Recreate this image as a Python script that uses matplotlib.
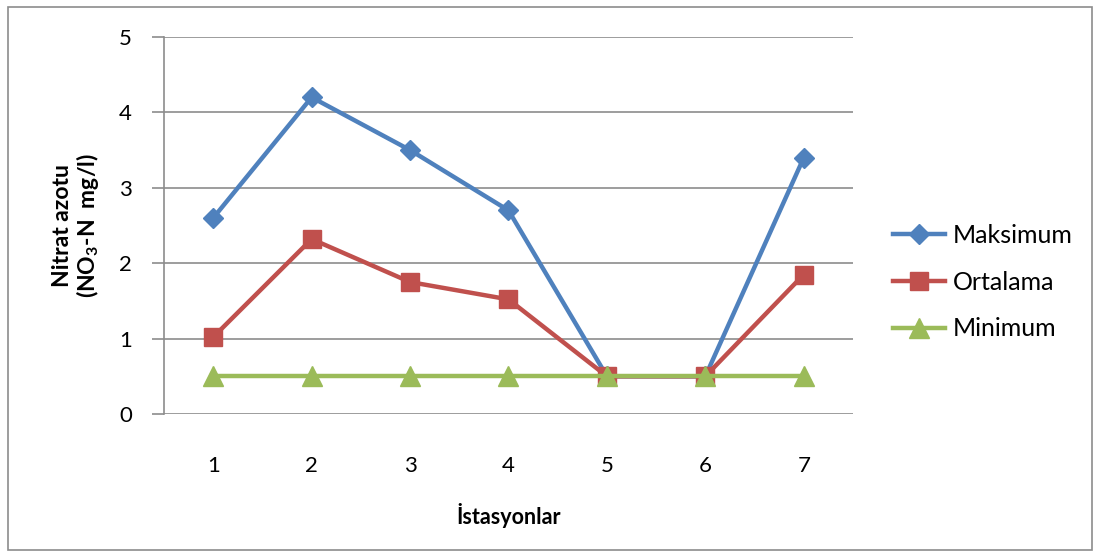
import matplotlib.pyplot as plt
from matplotlib.patches import Rectangle

# station measurements, nitrate nitrogen (mg/l)
stations = [1, 2, 3, 4, 5, 6, 7]
maksimum = [2.6, 4.2, 3.5, 2.7, 0.5, 0.5, 3.4]
ortalama = [1.02, 2.32, 1.75, 1.52, 0.5, 0.5, 1.85]
minimum = [0.5, 0.5, 0.5, 0.5, 0.5, 0.5, 0.5]
yticks = [0, 1, 2, 3, 4, 5]

plt.rcParams['font.family'] = ['Lato', 'DejaVu Sans']

fig = plt.figure(figsize=(10.98, 5.55), dpi=100)
ax = fig.add_axes([164 / 1098, 1 - 414 / 555, 689 / 1098, 377 / 555])

# outer chart frame
fig.patches.append(Rectangle((8 / 1098, 5 / 555), 1084 / 1098, 543 / 555,
                             transform=fig.transFigure, fill=False,
                             edgecolor='#8c8c8c', linewidth=1.2))

ax.plot(stations, maksimum, color='#4F81BD', lw=3.2, marker='D', ms=10,
        label='Maksimum', zorder=3)
ax.plot(stations, ortalama, color='#C0504D', lw=3.2, marker='s', ms=13,
        label='Ortalama', zorder=4)
ax.plot(stations, minimum, color='#9BBB59', lw=3.2, marker='^', ms=15,
        label='Minimum', zorder=5)

ax.set_xlim(0.5, 7.5)
ax.set_ylim(0, 5)
ax.set_yticks(yticks)
ax.set_xticks(stations)
ax.yaxis.grid(True, color='#8c8c8c', linewidth=1.2)
ax.set_axisbelow(True)
for side in ['top', 'right', 'bottom']:
    ax.spines[side].set_visible(False)
ax.spines['left'].set_color('#8c8c8c')
ax.spines['left'].set_linewidth(1.2)
ax.tick_params(axis='y', length=9, width=1.2, color='#8c8c8c', labelsize=16, pad=14)
ax.tick_params(axis='x', length=0, labelsize=16, pad=30)

ax.set_xlabel('İstasyonlar', fontsize=15.5, fontweight='bold', labelpad=20)
ax.set_ylabel('Nitrat azotu\n(NO$_\\mathregular{3}$-N  mg/l)', fontsize=16.5,
              fontweight='bold', labelpad=13, linespacing=1.05)

ax.legend(loc='center left', bbox_to_anchor=(1.0435, 0.35), frameon=False,
          fontsize=18, handlelength=2.1, handletextpad=0.3, labelspacing=0.95,
          borderaxespad=0)

fig.savefig('out.png', dpi=100)
